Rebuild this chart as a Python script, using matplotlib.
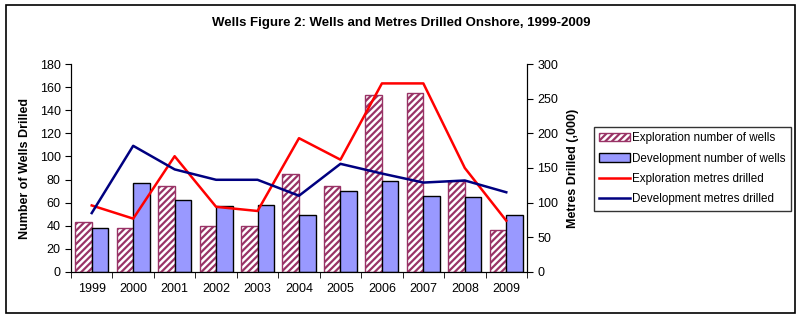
import matplotlib
matplotlib.use("Agg")
import matplotlib.pyplot as plt
import numpy as np
from matplotlib.patches import Rectangle

plt.rcParams['font.family'] = ['Liberation Sans', 'DejaVu Sans']
plt.rcParams['hatch.linewidth'] = 1.6

years = ['1999', '2000', '2001', '2002', '2003', '2004', '2005', '2006', '2007', '2008', '2009']
expl_wells = [43, 38, 74, 40, 40, 85, 74, 153, 155, 79, 36]
dev_wells = [38, 77, 62, 57, 58, 49, 70, 79, 66, 65, 49]
expl_metres = [96, 77, 167, 94, 88, 193, 162, 272, 272, 150, 74]
dev_metres = [85, 182, 148, 133, 133, 110, 156, 142, 129, 132, 115]

fig = plt.figure(figsize=(8.02, 3.18), dpi=100)
fig.patches.append(Rectangle((6/802, 1-313/318), (795-6)/802, (313-5)/318,
                             transform=fig.transFigure, fill=False,
                             edgecolor='black', linewidth=1.2))

ax = fig.add_axes([71/802, 1-272/318, (527-71)/802, (272-64)/318])
x = np.arange(len(years))
w = 0.4
ax.bar(x - w/2, expl_wells, w, facecolor='white', edgecolor='#993366',
       hatch='/////', linewidth=1.0, label='Exploration number of wells', zorder=2)
ax.bar(x + w/2, dev_wells, w, facecolor='#9999FF', edgecolor='black',
       linewidth=1.0, label='Development number of wells', zorder=2)
ax.set_xlim(-0.5, len(years) - 0.5)
ax.set_ylim(0, 180)
ax.set_yticks(range(0, 181, 20))
ax.set_xticks(x)
ax.set_xticklabels(years)
ax.set_xticks(np.arange(-0.5, len(years), 1), minor=True)
ax.tick_params(axis='x', which='major', length=0, pad=8, labelsize=9)
ax.tick_params(axis='x', which='minor', length=4, direction='out')
ax.tick_params(axis='y', length=4, direction='out', labelsize=9)
ax.spines['top'].set_visible(False)
ax.set_ylabel('Number of Wells Drilled', fontsize=9, fontweight='bold', labelpad=6)

ax2 = ax.twinx()
ax2.plot(x, expl_metres, color='#FF0000', lw=1.8, label='Exploration metres drilled', zorder=3)
ax2.plot(x, dev_metres, color='#000080', lw=1.8, label='Development metres drilled', zorder=3)
ax2.set_ylim(0, 300)
ax2.set_yticks(range(0, 301, 50))
ax2.tick_params(axis='y', length=4, direction='out', labelsize=9)
ax2.spines['top'].set_visible(False)
ax2.set_ylabel('Metres Drilled (,000)', fontsize=9, fontweight='bold', labelpad=6)

fig.text(0.5, 1-23/318, 'Wells Figure 2: Wells and Metres Drilled Onshore, 1999-2009',
         ha='center', va='center', fontsize=9.5, fontweight='bold')

h1, l1 = ax.get_legend_handles_labels()
h2, l2 = ax2.get_legend_handles_labels()
leg = fig.legend(h1 + h2, l1 + l2, loc='upper left',
                 bbox_to_anchor=(594/802, 1-127/318), fontsize=8.4,
                 frameon=True, fancybox=False, edgecolor='black',
                 borderpad=0.45, labelspacing=0.72, handlelength=2.6, handletextpad=0.25,
                 borderaxespad=0)
leg.get_frame().set_linewidth(1.0)

fig.savefig('out.png', dpi=100)
